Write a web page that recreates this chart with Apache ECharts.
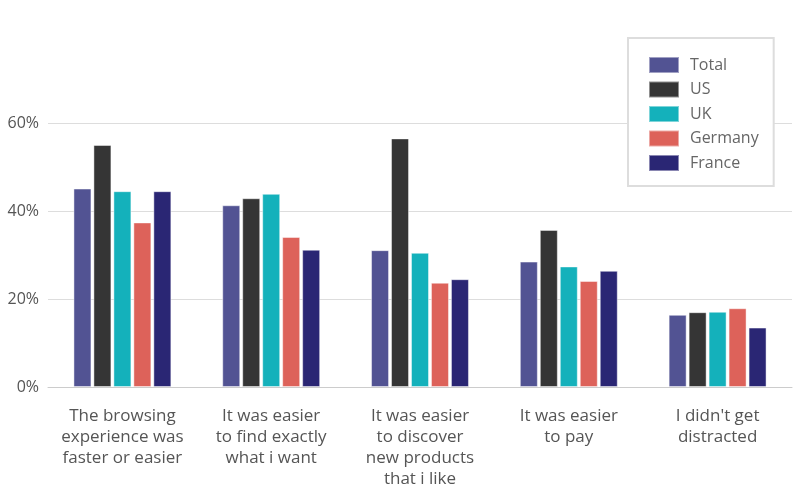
<!DOCTYPE html>
<html>
<head>
<meta charset="utf-8">
<script src="https://cdn.jsdelivr.net/npm/echarts@6/dist/echarts.min.js"></script>
<style>
html,body{margin:0;padding:0;background:#fff;}
#chart{width:800px;height:503px;}
</style>
</head>
<body>
<div id="chart"></div>
<script>
var categories = [
  "The browsing\nexperience was\nfaster or easier",
  "It was easier\nto find exactly\nwhat i want",
  "It was easier\nto discover\nnew products\nthat i like",
  "It was easier\nto pay",
  "I didn't get\ndistracted"
];
var seriesNames = ["Total", "US", "UK", "Germany", "France"];
var total   = [45.1, 41.3, 31.1, 28.5, 16.4];
var us      = [55.0, 42.9, 56.5, 35.7, 17.0];
var uk      = [44.5, 43.9, 30.5, 27.4, 17.1];
var germany = [37.4, 34.1, 23.7, 24.1, 17.9];
var france  = [44.5, 31.2, 24.5, 26.4, 13.5];
var yTicks = [0, 20, 40, 60];
var colors = ["#525393", "#353535", "#14b1bb", "#dd625a", "#2a2674"];

var dataSets = [total, us, uk, germany, france];
var chart = echarts.init(document.getElementById('chart'));
var font = '"Open Sans", "DejaVu Sans", sans-serif';
var series = dataSets.map(function (d, i) {
  return {
    name: seriesNames[i],
    type: 'bar',
    data: d,
    barWidth: 18,
    barGap: '11%',
    itemStyle: { color: colors[i], borderColor: 'rgba(255,255,255,0.45)', borderWidth: 1 }
  };
});
chart.setOption({
  animation: false,
  backgroundColor: '#ffffff',
  color: colors,
  textStyle: { fontFamily: font },
  grid: { left: 48, right: 8, top: 123, bottom: 116, containLabel: false },
  legend: {
    orient: 'vertical',
    left: 628,
    top: 38,
    padding: [18, 15, 14, 20],
    itemWidth: 30,
    itemHeight: 16,
    itemGap: 6.5,
    backgroundColor: '#ffffff',
    borderColor: '#dddddd',
    borderWidth: 2,
    icon: 'rect',
    data: seriesNames,
    textStyle: { fontSize: 16, lineHeight: 16, color: '#666666', fontFamily: font, padding: [0, 0, 0, 6] }
  },
  xAxis: {
    type: 'category',
    data: categories,
    axisLine: { show: true, lineStyle: { color: '#cccccc', width: 1 } },
    axisTick: { show: false },
    axisLabel: { color: '#555555', fontSize: 17, lineHeight: 21, margin: 19, interval: 0, fontFamily: font }
  },
  yAxis: {
    type: 'value',
    min: yTicks[0],
    max: yTicks[yTicks.length - 1],
    interval: 20,
    axisLine: { show: false },
    axisTick: { show: false },
    splitLine: { lineStyle: { color: '#dddddd', width: 1 } },
    axisLabel: { color: '#555555', fontSize: 16, margin: 9, formatter: '{value}%', fontFamily: font }
  },
  series: series
});
</script>
</body>
</html>
